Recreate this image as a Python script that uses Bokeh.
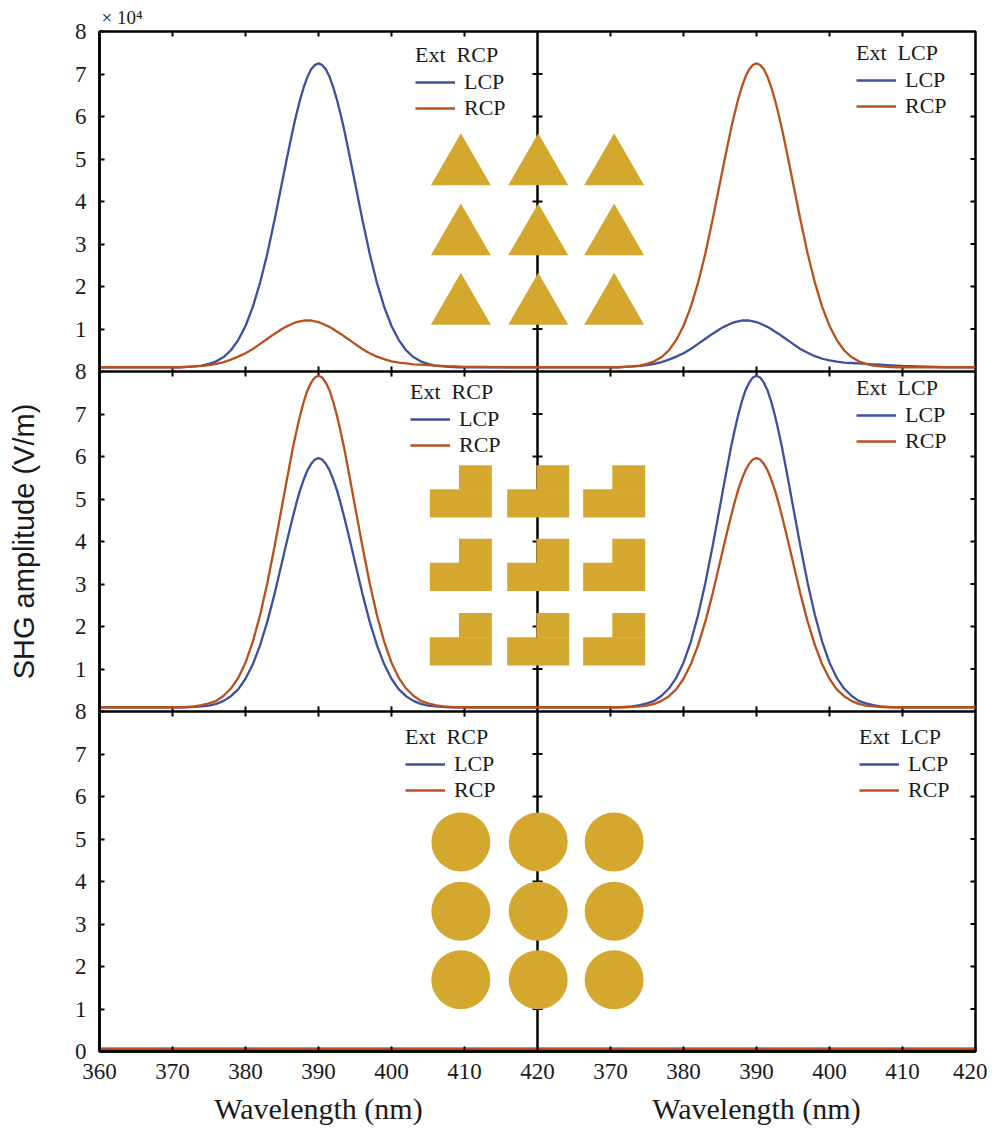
from bokeh.plotting import figure
from bokeh.layouts import column, row
from bokeh.models import Range1d, FixedTicker, Span, Legend, LegendItem, Title
from bokeh.embed import file_html
from bokeh.resources import INLINE

# ---------------- data (values in units of 1e4 V/m) ----------------
wavelength = ([360, 364, 368] + list(range(370, 385))
              + [385 + 0.5 * i for i in range(21)]
              + list(range(396, 411)) + [412, 416, 420])

# top row: triangles
tri_extR_LCP = ([0.10, 0.10, 0.10]
    + [0.10, 0.10, 0.11, 0.12, 0.14, 0.18, 0.24, 0.34, 0.50, 0.74, 1.07, 1.52, 2.09, 2.78, 3.58]
    + [4.44, 4.87, 5.29, 5.70, 6.07, 6.41, 6.70, 6.94, 7.11, 7.21, 7.25, 7.21, 7.11, 6.94, 6.70, 6.41, 6.07, 5.70, 5.29, 4.87, 4.44]
    + [3.58, 2.78, 2.09, 1.52, 1.07, 0.74, 0.50, 0.34, 0.24, 0.18, 0.14, 0.12, 0.11, 0.10, 0.10]
    + [0.10, 0.10, 0.10])
tri_extR_RCP = ([0.10, 0.10, 0.10]
    + [0.10, 0.10, 0.11, 0.12, 0.13, 0.15, 0.18, 0.22, 0.28, 0.35, 0.43, 0.53, 0.65, 0.77, 0.89]
    + [1.00, 1.05, 1.09, 1.13, 1.16, 1.18, 1.20, 1.20, 1.20, 1.18, 1.16, 1.13, 1.09, 1.05, 1.00, 0.94, 0.89, 0.83, 0.77, 0.71, 0.65]
    + [0.53, 0.43, 0.35, 0.29, 0.24, 0.21, 0.19, 0.17, 0.16, 0.15, 0.14, 0.13, 0.12, 0.12, 0.11]
    + [0.11, 0.10, 0.10])
tri_extL_LCP = ([0.10, 0.10, 0.10]
    + [0.10, 0.10, 0.11, 0.12, 0.13, 0.15, 0.18, 0.22, 0.28, 0.35, 0.43, 0.53, 0.65, 0.77, 0.89]
    + [1.00, 1.05, 1.09, 1.13, 1.16, 1.18, 1.20, 1.20, 1.20, 1.18, 1.16, 1.13, 1.09, 1.05, 1.00, 0.94, 0.89, 0.83, 0.77, 0.71, 0.65]
    + [0.53, 0.44, 0.36, 0.30, 0.26, 0.23, 0.21, 0.20, 0.19, 0.18, 0.17, 0.16, 0.15, 0.14, 0.13]
    + [0.12, 0.10, 0.10])
tri_extL_RCP = ([0.10, 0.10, 0.10]
    + [0.10, 0.10, 0.11, 0.12, 0.14, 0.18, 0.24, 0.34, 0.50, 0.74, 1.07, 1.52, 2.09, 2.78, 3.58]
    + [4.44, 4.87, 5.29, 5.70, 6.07, 6.41, 6.70, 6.94, 7.11, 7.21, 7.25, 7.21, 7.11, 6.94, 6.70, 6.41, 6.07, 5.70, 5.29, 4.87, 4.44]
    + [3.58, 2.78, 2.09, 1.52, 1.07, 0.74, 0.50, 0.34, 0.24, 0.18, 0.14, 0.12, 0.11, 0.10, 0.10]
    + [0.10, 0.10, 0.10])

# middle row: L shapes
L_extR_LCP = ([0.10, 0.10, 0.10]
    + [0.10, 0.10, 0.10, 0.11, 0.12, 0.14, 0.18, 0.25, 0.36, 0.52, 0.77, 1.11, 1.56, 2.12, 2.78]
    + [3.51, 3.88, 4.24, 4.59, 4.92, 5.22, 5.47, 5.68, 5.83, 5.93, 5.96, 5.93, 5.83, 5.68, 5.47, 5.22, 4.92, 4.59, 4.24, 3.88, 3.51]
    + [2.78, 2.12, 1.56, 1.11, 0.77, 0.52, 0.36, 0.25, 0.18, 0.14, 0.12, 0.11, 0.10, 0.10, 0.10]
    + [0.10, 0.10, 0.10])
L_extR_RCP = ([0.10, 0.10, 0.10]
    + [0.10, 0.10, 0.11, 0.12, 0.15, 0.19, 0.25, 0.37, 0.54, 0.79, 1.15, 1.64, 2.27, 3.03, 3.90]
    + [4.83, 5.30, 5.76, 6.21, 6.61, 6.98, 7.30, 7.56, 7.74, 7.86, 7.90, 7.86, 7.74, 7.56, 7.30, 6.98, 6.61, 6.21, 5.76, 5.30, 4.83]
    + [3.90, 3.03, 2.27, 1.64, 1.15, 0.79, 0.54, 0.37, 0.25, 0.19, 0.15, 0.12, 0.11, 0.10, 0.10]
    + [0.10, 0.10, 0.10])
L_extL_LCP = ([0.10, 0.10, 0.10]
    + [0.10, 0.10, 0.11, 0.12, 0.15, 0.19, 0.25, 0.37, 0.54, 0.79, 1.15, 1.64, 2.27, 3.03, 3.90]
    + [4.83, 5.30, 5.76, 6.21, 6.61, 6.98, 7.30, 7.56, 7.74, 7.86, 7.90, 7.86, 7.74, 7.56, 7.30, 6.98, 6.61, 6.21, 5.76, 5.30, 4.83]
    + [3.90, 3.03, 2.27, 1.64, 1.15, 0.79, 0.54, 0.37, 0.25, 0.19, 0.15, 0.12, 0.11, 0.10, 0.10]
    + [0.10, 0.10, 0.10])
L_extL_RCP = ([0.10, 0.10, 0.10]
    + [0.10, 0.10, 0.10, 0.11, 0.12, 0.14, 0.18, 0.25, 0.36, 0.52, 0.77, 1.11, 1.56, 2.12, 2.78]
    + [3.51, 3.88, 4.24, 4.59, 4.92, 5.22, 5.47, 5.68, 5.83, 5.93, 5.96, 5.93, 5.83, 5.68, 5.47, 5.22, 4.92, 4.59, 4.24, 3.88, 3.51]
    + [2.78, 2.12, 1.56, 1.11, 0.77, 0.52, 0.36, 0.25, 0.18, 0.14, 0.12, 0.11, 0.10, 0.10, 0.10]
    + [0.10, 0.10, 0.10])

# bottom row: discs (flat, near zero)
disc_wavelength = [360, 375, 390, 405, 420]
disc_extR_LCP = [0.06, 0.06, 0.06, 0.06, 0.06]
disc_extR_RCP = [0.07, 0.07, 0.07, 0.07, 0.07]
disc_extL_LCP = [0.06, 0.06, 0.06, 0.06, 0.06]
disc_extL_RCP = [0.07, 0.07, 0.07, 0.07, 0.07]

# axes ticks / labels
left_x_ticks = [360, 370, 380, 390, 400, 410, 420]
right_x_ticks = [370, 380, 390, 400, 410, 420]
y_ticks = [0, 1, 2, 3, 4, 5, 6, 7, 8]

# inset nanostructure arrays (positions in left-panel wavelength / amplitude units)
inset_cols = [409.5, 420.1, 430.5]
tri_rows = [4.79, 3.14, 1.51]
L_rows = [5.18, 3.45, 1.70]
disc_rows = [4.93, 3.30, 1.69]

BLUE = "#3E4F9B"
ORANGE = "#B8501C"
GOLD = "#D4A72E"
SERIF = "Liberation Serif"
SANS = "Liberation Sans"
INK = "#1a1a1a"
LW = 2.3
LEFT = 99
RIGHT = 12
FW = 876

# ---------------- main figure ----------------
p = figure(frame_width=FW, frame_height=1020,
           x_range=Range1d(360, 480), y_range=Range1d(0, 24),
           output_backend="svg", toolbar_location=None, tools="",
           min_border_left=LEFT, min_border_right=RIGHT, min_border_top=31, min_border_bottom=38)
p.title = Title(text="× 10⁴", align="left", offset=2, standoff=7, text_font=SERIF,
                text_font_size="19px", text_font_style="normal", text_color=INK)
p.extra_x_ranges = {"right": Range1d(300, 420)}
p.extra_y_ranges = {"top": Range1d(-16, 8), "mid": Range1d(-8, 16)}
p.grid.visible = False
p.outline_line_color = "black"
p.outline_line_width = 2.5

# x axis (two panels side by side)
xt = left_x_ticks + [t + 60 for t in right_x_ticks]
xlab = {}
for t in left_x_ticks:
    xlab[t] = str(t)
for t in right_x_ticks:
    xlab[t + 60] = str(t)
xa = p.xaxis[0]
xa.ticker = FixedTicker(ticks=xt)
xa.major_label_overrides = xlab
xa.minor_tick_line_color = None
xa.major_tick_in = 5
xa.major_tick_out = 0
xa.major_tick_line_width = 2
xa.axis_line_width = 2.5
xa.major_label_standoff = 12
xa.major_label_text_font = SERIF
xa.major_label_text_font_size = "23px"
xa.major_label_text_color = INK

# y axis (three stacked rows); shared boundaries show the upper panel's "8"
yt = []
ylab = {}
for rw in range(3):
    for t in y_ticks:
        v = rw * 8 + t
        if v not in ylab:
            yt.append(v)
            ylab[v] = str(t)
        elif t == 8:
            ylab[v] = str(t)
ya = p.yaxis[0]
ya.ticker = FixedTicker(ticks=yt)
ya.major_label_overrides = ylab
ya.minor_tick_line_color = None
ya.major_tick_in = 5
ya.major_tick_out = 0
ya.major_tick_line_width = 2
ya.axis_line_width = 2.5
ya.major_label_standoff = 13
ya.major_label_text_font = SERIF
ya.major_label_text_font_size = "23px"
ya.major_label_text_color = INK
ya.axis_label = "SHG amplitude (V/m)"
ya.axis_label_text_font = SANS
ya.axis_label_text_font_size = "29px"
ya.axis_label_text_font_style = "normal"
ya.axis_label_text_color = INK
ya.axis_label_standoff = 32

# panel dividers
for loc, dim in [(420, "height"), (8, "width"), (16, "width")]:
    p.add_layout(Span(location=loc, dimension=dim, line_color="black", line_width=2.5, level="underlay"))

# inner / top / right tick marks
hx = 0.68   # 5 px in nm
hy = 0.12   # 5 px in amplitude units
inner_x = [t for t in xt if t not in (360, 420, 480)]
inner_y = [t for t in yt if t not in (0, 8, 16, 24)]
x0, x1, y0, y1 = [], [], [], []
for yb in (8, 16):
    for t in inner_x:
        x0.append(t); x1.append(t); y0.append(yb - hy); y1.append(yb + hy)
for t in inner_x:
    x0.append(t); x1.append(t); y0.append(24 - hy); y1.append(24)
for t in inner_y:
    x0.append(420 - hx); x1.append(420 + hx); y0.append(t); y1.append(t)
    x0.append(480 - hx); x1.append(480); y0.append(t); y1.append(t)
p.segment(x0=x0, y0=y0, x1=x1, y1=y1, line_color="black", line_width=2)

# inset nanostructures
tx, ty = [], []
for r in tri_rows:
    for c in inset_cols:
        tx.append(c); ty.append(r)
p.scatter(tx, ty, marker="triangle", size=60, fill_color=GOLD, line_color=None, y_range_name="top")

Lw, Lh = 8.5, 1.23
ql, qr, qb, qt = [], [], [], []
for r in L_rows:
    for c in inset_cols:
        left, right, bot, top = c - Lw / 2, c + Lw / 2, r - Lh / 2, r + Lh / 2
        split_y = bot + 0.54 * Lh
        ql.append(left); qr.append(right); qb.append(bot); qt.append(split_y)
        ql.append(left + 0.47 * Lw); qr.append(right); qb.append(split_y - 0.01); qt.append(top)
p.quad(left=ql, right=qr, bottom=qb, top=qt, fill_color=GOLD, line_color=None, y_range_name="mid")

dx, dy = [], []
for r in disc_rows:
    for c in inset_cols:
        dx.append(c); dy.append(r)
p.scatter(dx, dy, marker="circle", size=59, fill_color=GOLD, line_color=None)

# ---------------- curves ----------------
def curve(x, y, color, xr, yr):
    kw = {}
    if xr:
        kw["x_range_name"] = xr
    if yr:
        kw["y_range_name"] = yr
    return p.line(x, y, line_color=color, line_width=LW, **kw)

panels = [
    ("Ext  RCP", wavelength, tri_extR_LCP, tri_extR_RCP, None, "top", (316, 930)),
    ("Ext  LCP", wavelength, tri_extL_LCP, tri_extL_RCP, "right", "top", (757, 932)),
    ("Ext  RCP", wavelength, L_extR_LCP, L_extR_RCP, None, "mid", (311, 593)),
    ("Ext  LCP", wavelength, L_extL_LCP, L_extL_RCP, "right", "mid", (757, 597)),
    ("Ext  RCP", disc_wavelength, disc_extR_LCP, disc_extR_RCP, None, None, (306, 248)),
    ("Ext  LCP", disc_wavelength, disc_extL_LCP, disc_extL_RCP, "right", None, (760, 248)),
]
for title, x, lcp, rcp, xr, yr, loc in panels:
    r1 = curve(x, lcp, BLUE, xr, yr)
    r2 = curve(x, rcp, ORANGE, xr, yr)
    lg = Legend(items=[LegendItem(label="LCP", renderers=[r1]), LegendItem(label="RCP", renderers=[r2])],
                title=title, location=loc, padding=0, margin=0, spacing=0,
                glyph_width=40, glyph_height=20, label_height=20, label_standoff=9,
                title_standoff=1, border_line_color=None, background_fill_alpha=0,
                title_text_font=SERIF, title_text_font_size="22px", title_text_font_style="normal",
                title_text_color=INK,
                label_text_font=SERIF, label_text_font_size="22px", label_text_color=INK)
    p.add_layout(lg)

# ---------------- x-axis titles, one under each panel ----------------
def x_title_strip(border_left, border_right):
    s = figure(frame_width=FW // 2, frame_height=1, x_range=Range1d(0, 1), y_range=Range1d(0, 1),
               output_backend="svg", toolbar_location=None, tools="",
               x_axis_location=None, y_axis_location=None,
               min_border_left=border_left, min_border_right=border_right,
               min_border_top=4, min_border_bottom=0)
    s.title = Title(text="Wavelength (nm)", align="center", standoff=0, text_font=SERIF,
                    text_font_size="30px", text_font_style="normal", text_color=INK)
    s.grid.visible = False
    s.outline_line_color = None
    return s

bottom_titles = row(x_title_strip(LEFT, 0), x_title_strip(0, RIGHT), spacing=0)

layout = column(p, bottom_titles, spacing=0)
open("out.html", "w").write(file_html(layout, INLINE))
